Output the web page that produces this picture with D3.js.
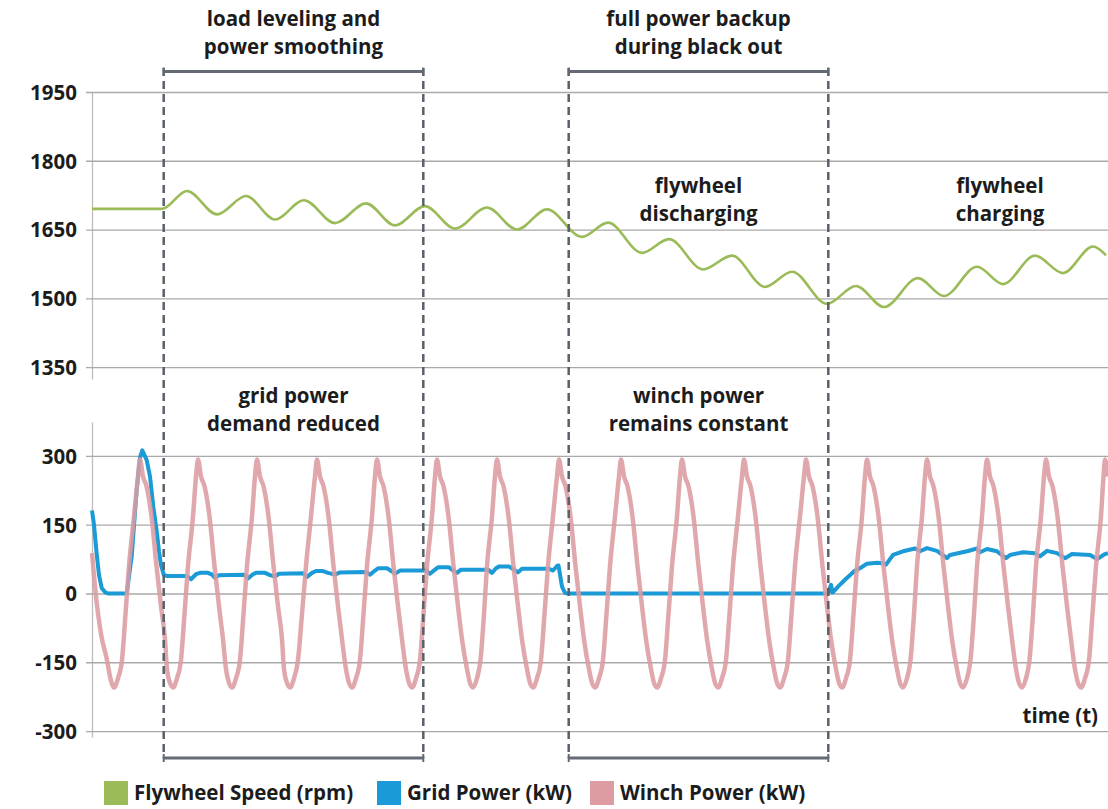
<!DOCTYPE html>
<html><head><meta charset="utf-8">
<script src="https://cdn.jsdelivr.net/npm/d3@7"></script>
<style>
html,body{margin:0;padding:0;background:#fff;}
svg text{font-family:"Open Sans","Noto Sans",sans-serif;font-weight:700;fill:#1c1c1c;}
</style></head>
<body><svg id="c" width="1108" height="809"></svg>
<script>
// ---------- data (time in s) ----------
const speedTicks = [1350, 1500, 1650, 1800, 1950];
const powerTicks = [-300, -150, 0, 150, 300];
const powerTickLabels = ["-300", "-150", "0", "150", "300"];
const phaseBounds = [7.17, 33.13, 47.67, 73.63];
const seriesNames = ["Flywheel Speed (rpm)", "Grid Power (kW)", "Winch Power (kW)"];

const flywheelSpeed = [
 [0,1695],[7.0,1695],[9.5,1734],[12.5,1683],[15.4,1723],[18.3,1672],[21.2,1714],[24.3,1664],
 [27.4,1707],[30.3,1659],[33.3,1701],[36.3,1652],[39.5,1698],[42.5,1650],[45.5,1694],[49.0,1634],
 [51.6,1665],[55.0,1599],[57.7,1629],[61.1,1563],[64.0,1593],[67.3,1525],[70.0,1558],[73.5,1488],
 [76.4,1527],[79.2,1481],[82.6,1544],[85.2,1505],[88.5,1569],[91.1,1531],[94.3,1593],[97.1,1555],
 [100.1,1613],[101.4,1594]
];

const gridPower = [
 [0,181],[0.2,150],[0.45,90],[0.7,40],[0.97,12],[1.3,3],[1.6,0],[3.47,0],[3.97,81],[4.47,226],[4.8,297],[5.03,312],
 [5.47,291],[5.8,255],[6.13,189],[6.47,136],[6.7,92],[6.9,62],[7.17,41],[7.5,38],[9.5,38],[9.9,31],
 [10.4,42],[10.8,45],[11.6,45],[12.0,41],[12.3,34],[12.7,40],[15.2,41],[15.6,33],[16.1,42],[16.4,45],
 [17.3,45],[17.8,40],[18.3,37],[18.7,43],[21.1,44],[21.5,36],[22.0,45],[22.4,49],[23.1,49],[23.6,45],
 [24.3,41],[24.8,46],[27.4,47],[27.8,41],[28.3,50],[28.6,55],[29.5,55],[30.0,48],[30.3,43],[30.8,50],
 [33.4,50],[33.8,43],[34.3,52],[34.6,57],[35.7,57],[36.1,50],[36.5,45],[36.9,52],[39.6,52],[40.0,45],
 [40.4,55],[40.7,59],[41.7,59],[42.2,52],[42.6,46],[43.0,54],[45.7,54],[46.1,50],[46.5,60],[46.65,61],
 [47.0,15],[47.3,1],[47.6,0],[73.6,0],[73.9,19],[74.05,2],[74.2,5],[74.6,15],[75.3,30],[76.3,50],
 [76.8,55],[77.5,65],[78.5,67],[79.1,66],[79.4,63],[80.1,84],[81.1,92],[82.3,98],[82.8,92],[83.5,99],
 [84.5,93],[85.5,77],[85.8,84],[87.5,92],[88.5,98],[88.8,90],[89.5,97],[90.5,92],[91.4,77],[91.8,84],
 [93.1,90],[94.3,88],[94.8,81],[95.5,93],[96.5,88],[97.3,77],[98.0,86],[99.8,84],[100.5,75],[101.3,86],[101.6,88]
];

const winchPower = [
 [0,88],[0.3,15],[0.95,-94],[1.45,-140],[1.9,-190],
 [2.2,-205],[2.6,-185],[3.0,-145],[3.35,-45],[3.7,60],[4.2,168],[4.6,255],[4.8,292],[5.1,255],[5.45,234],[5.95,168],[6.45,60],[6.9,-28],[7.3,-100],[7.5,-165],[7.8,-195],
 [8.1,-205],[8.5,-185],[8.9,-145],[9.25,-45],[9.6,60],[10.1,168],[10.4,255],[10.6,292],[10.9,255],[11.25,234],[11.75,168],[12.25,60],[12.7,-28],[13.1,-100],[13.4,-165],[13.7,-195],
 [14.0,-205],[14.4,-185],[14.8,-145],[15.15,-45],[15.5,60],[16.0,168],[16.3,255],[16.5,292],[16.8,255],[17.15,234],[17.65,168],[18.15,60],[18.6,-28],[19.0,-100],[19.2,-165],[19.5,-195],
 [19.8,-205],[20.2,-185],[20.6,-145],[21.0,-45],[21.4,60],[21.9,168],[22.3,255],[22.5,292],[22.8,255],[23.15,234],[23.65,168],[24.15,60],[24.6,-28],[25.0,-100],[25.4,-165],[25.7,-195],
 [26.0,-205],[26.4,-185],[26.8,-145],[27.15,-45],[27.5,60],[28.0,168],[28.3,255],[28.5,292],[28.8,255],[29.15,234],[29.65,168],[30.15,60],[30.6,-28],[31.0,-100],[31.4,-165],[31.7,-195],
 [32.0,-205],[32.4,-185],[32.8,-145],[33.15,-45],[33.5,60],[34.0,168],[34.3,255],[34.5,292],[34.8,255],[35.15,234],[35.65,168],[36.15,60],[36.6,-28],[37.0,-100],[37.5,-165],[37.8,-195],
 [38.1,-205],[38.5,-185],[38.85,-145],[39.2,-45],[39.5,60],[40.0,168],[40.3,255],[40.5,292],[40.8,255],[41.15,234],[41.65,168],[42.15,60],[42.6,-28],[43.0,-100],[43.5,-165],[43.8,-195],
 [44.1,-205],[44.5,-185],[44.9,-145],[45.25,-45],[45.6,60],[46.1,168],[46.5,255],[46.7,292],[47.0,255],[47.35,234],[47.85,168],[48.35,60],[48.8,-28],[49.2,-100],[49.7,-165],[50.0,-195],
 [50.3,-205],[50.7,-185],[51.1,-145],[51.45,-45],[51.8,60],[52.3,168],[52.7,255],[52.9,292],[53.2,255],[53.55,234],[54.05,168],[54.55,60],[55.0,-28],[55.4,-100],[55.9,-165],[56.2,-195],
 [56.5,-205],[56.9,-185],[57.3,-145],[57.65,-45],[58.0,60],[58.5,168],[58.8,255],[59.0,292],[59.3,255],[59.65,234],[60.15,168],[60.65,60],[61.1,-28],[61.5,-100],[62.0,-165],[62.3,-195],
 [62.6,-205],[63.0,-185],[63.4,-145],[63.75,-45],[64.1,60],[64.6,168],[65.0,255],[65.2,292],[65.5,255],[65.85,234],[66.35,168],[66.85,60],[67.3,-28],[67.7,-100],[68.2,-165],[68.5,-195],
 [68.8,-205],[69.2,-185],[69.6,-145],[69.95,-45],[70.3,60],[70.8,168],[71.2,255],[71.4,292],[71.7,255],[72.05,234],[72.55,168],[73.05,60],[73.5,-28],[73.9,-100],[74.4,-165],[74.7,-195],
 [75.0,-205],[75.4,-185],[75.8,-145],[76.15,-45],[76.5,60],[77.0,168],[77.3,255],[77.5,292],[77.8,255],[78.15,234],[78.65,168],[79.15,60],[79.6,-28],[80.0,-100],[80.5,-165],[80.8,-195],
 [81.1,-205],[81.5,-185],[81.85,-145],[82.2,-45],[82.5,60],[83.0,168],[83.3,255],[83.5,292],[83.8,255],[84.15,234],[84.65,168],[85.15,60],[85.6,-28],[86.0,-100],[86.5,-165],[86.8,-195],
 [87.1,-205],[87.5,-185],[87.85,-145],[88.2,-45],[88.5,60],[89.0,168],[89.3,255],[89.5,292],[89.8,255],[90.15,234],[90.65,168],[91.15,60],[91.6,-28],[92.0,-100],[92.4,-165],[92.7,-195],
 [93.0,-205],[93.4,-185],[93.75,-145],[94.1,-45],[94.4,60],[94.9,168],[95.2,255],[95.4,292],[95.7,255],[96.05,234],[96.55,168],[97.05,60],[97.5,-28],[97.9,-100],[98.3,-165],[98.6,-195],
 [98.9,-205],[99.3,-185],[99.7,-145],[100.05,-45],[100.4,60],[100.9,168],[101.15,255],[101.3,292],[101.6,255]
];

const topNotes = [["load leveling and", "power smoothing"], ["full power backup", "during black out"]];
const midNotes = [["grid power", "demand reduced"], ["winch power", "remains constant"]];
const speedNotes = [["flywheel", "discharging"], ["flywheel", "charging"]];

// ---------- layout ----------
const W = 1108, H = 809, L = 92;
const colors = ["#9bbb59", "#1a9ad7", "#dc9ca1"];
const FS = "20.5px";
const svg = d3.select("#c");
const x = d3.scaleLinear().domain([0, 101.6]).range([L, W]);
const yTop = d3.scaleLinear().domain([1324, 1950]).range([379, 92]);
const yBot = d3.scaleLinear().domain([-313, 374]).range([737, 422]);

function drawAxis(scale, ticks, labels) {
  const g = svg.append("g").attr("transform", `translate(${L},0)`)
    .call(d3.axisLeft(scale).tickValues(ticks).tickSizeInner(-(W - L)).tickSizeOuter(0).tickPadding(15)
      .tickFormat((d, i) => labels ? labels[i] : d));
  g.attr("font-family", null);
  g.select(".domain").attr("stroke", "#bdbdbd").attr("stroke-width", 1.3);
  g.selectAll(".tick line").attr("x1", -6).attr("stroke", "#a9a9a9").attr("stroke-width", 1.3);
  g.selectAll(".tick text").style("font-size", FS).attr("fill", "#1c1c1c").attr("dy", "0.36em");
}
drawAxis(yTop, speedTicks, null);
drawAxis(yBot, powerTicks, powerTickLabels);

// lines
const lineTop = d3.line().x(d => x(d[0])).y(d => yTop(d[1])).curve(d3.curveMonotoneX);
const lineGrid = d3.line().x(d => x(d[0])).y(d => yBot(d[1])).curve(d3.curveLinear);
const lineWinch = d3.line().x(d => x(d[0])).y(d => yBot(d[1])).curve(d3.curveMonotoneX);

svg.append("path").datum(flywheelSpeed).attr("d", lineTop).attr("fill", "none")
  .attr("stroke", colors[0]).attr("stroke-width", 2.6);
svg.append("path").datum(gridPower).attr("d", lineGrid).attr("fill", "none")
  .attr("stroke", colors[1]).attr("stroke-width", 4).attr("stroke-linejoin", "round");
svg.append("path").datum(winchPower).attr("d", lineWinch).attr("fill", "none")
  .attr("stroke", colors[2]).attr("stroke-opacity", 0.88).attr("stroke-width", 4.5).attr("stroke-linejoin", "round");

// phase markers
const dashColor = "#5a6069";
svg.selectAll("line.phase").data(phaseBounds).join("line").attr("class", "phase")
  .attr("x1", d => x(d)).attr("x2", d => x(d)).attr("y1", 68).attr("y2", 758)
  .attr("stroke", dashColor).attr("stroke-width", 2.5).attr("stroke-dasharray", "8,5");
const pairs = [[phaseBounds[0], phaseBounds[1]], [phaseBounds[2], phaseBounds[3]]];
[71.5, 758].forEach(yy => {
  pairs.forEach(p => {
    svg.append("line").attr("x1", x(p[0])).attr("x2", x(p[1])).attr("y1", yy).attr("y2", yy)
      .attr("stroke", "#646a73").attr("stroke-width", 3);
    p.forEach(t => svg.append("line").attr("x1", x(t)).attr("x2", x(t)).attr("y1", yy - 4).attr("y2", yy + 4)
      .attr("stroke", "#646a73").attr("stroke-width", 2));
  });
});

function note(lines, cx, y0) {
  lines.forEach((s, i) => svg.append("text").attr("x", cx).attr("y", y0 + i * 27.5)
    .attr("text-anchor", "middle").style("font-size", FS).text(s));
}
pairs.forEach((p, i) => {
  const cx = (x(p[0]) + x(p[1])) / 2;
  note(topNotes[i], cx, 26);
  note(midNotes[i], cx, 403);
});
note(speedNotes[0], (x(pairs[1][0]) + x(pairs[1][1])) / 2, 193);
note(speedNotes[1], x(90.8), 193);

svg.append("text").attr("x", 1098).attr("y", 723).attr("text-anchor", "end")
  .style("font-size", FS).text("time (t)");

// legend
const legX = [104, 377, 590];
seriesNames.forEach((n, i) => {
  svg.append("rect").attr("x", legX[i]).attr("y", 781).attr("width", 24).attr("height", 24).attr("fill", colors[i]);
  svg.append("text").attr("x", legX[i] + 30).attr("y", 800).style("font-size", FS).text(n);
});
</script></body></html>
